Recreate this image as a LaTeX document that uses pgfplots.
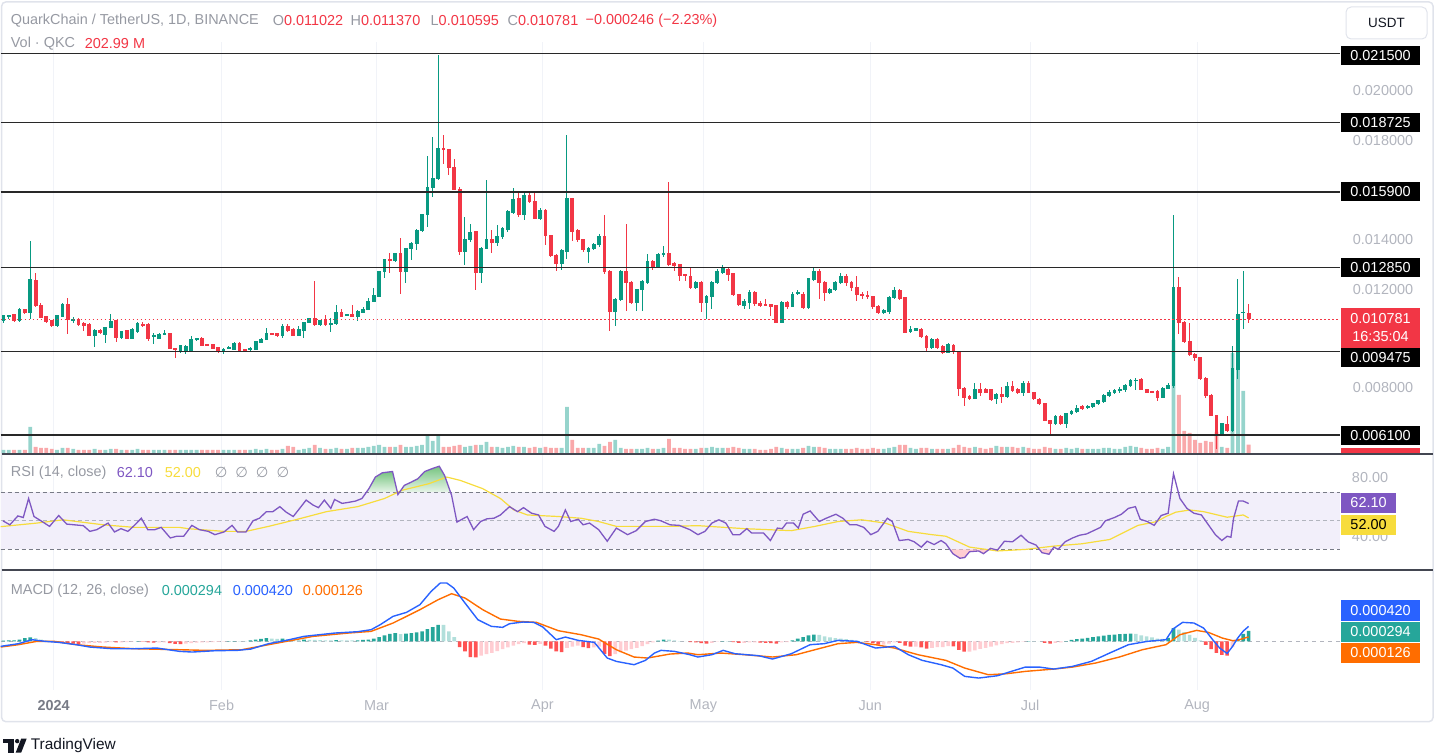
\documentclass[border=0pt]{standalone}
\usepackage{pgfplots}
\pgfplotsset{compat=1.18}
\usepackage{pgfplotstable}
\usepackage{fontspec}
\setmainfont{Liberation Sans}
\newfontfamily\dejavu{DejaVu Sans}

\definecolor{upc}{RGB}{8,153,129}
\definecolor{dnc}{RGB}{242,54,69}
\definecolor{vup}{RGB}{150,212,204}
\definecolor{vdn}{RGB}{249,168,170}
\definecolor{hgd}{RGB}{38,166,154}
\definecolor{hgl}{RGB}{178,223,219}
\definecolor{hrd}{RGB}{255,82,82}
\definecolor{hrl}{RGB}{255,205,210}
\definecolor{macdc}{RGB}{41,98,255}
\definecolor{sigc}{RGB}{255,109,0}
\definecolor{rsic}{RGB}{126,87,194}
\definecolor{rsima}{RGB}{247,220,60}
\definecolor{band}{RGB}{242,239,250}
\definecolor{obtop}{RGB}{118,196,128}
\definecolor{obbot}{RGB}{232,245,233}
\definecolor{txtg}{RGB}{150,153,162}
\definecolor{axg}{RGB}{178,181,190}
\definecolor{dashg}{RGB}{120,123,134}
\definecolor{sepc}{RGB}{67,70,81}
\definecolor{lvl}{RGB}{40,40,40}
\definecolor{gridc}{RGB}{241,243,248}
\definecolor{framec}{RGB}{224,227,235}
\definecolor{tvtxt}{RGB}{19,23,34}

\newcommand\fs{\fontsize{14.5}{17}\selectfont}
\tikzset{hl/.style={anchor=west, inner sep=0pt, font=\fs},
         cl/.style={inner sep=0pt, font=\fs}}

% every axis covers the whole 1435 x 756 canvas, so they all sit on top of each other
\pgfplotsset{
  tvfull/.style={scale only axis, width=1435bp, height=756bp, hide axis, clip=false,
    xmin=-0.50279, xmax=266.723},
  tvcanvas/.style={scale only axis, width=1435bp, height=756bp, hide axis, clip=false,
    xmin=0, xmax=1435, ymin=-756, ymax=0}}

% daily candles: k = day (k=9 is 1 Jan 2024), prices in 0.001 USDT, volume in M QKC
\pgfplotstableread{
k o h l c v
0 10.70 10.96 10.63 10.92 75
1 10.87 10.96 10.80 10.92 75
2 10.96 10.99 10.66 10.70 75
3 10.70 11.22 10.66 11.17 75
4 11.17 11.20 10.97 11.03 75
5 11.03 13.94 10.79 12.37 650
6 12.34 12.64 11.28 11.33 150
7 11.33 11.43 10.83 10.86 125
8 10.87 10.92 10.60 10.66 125
9 10.70 10.74 10.47 10.50 100
10 10.50 10.96 10.47 10.92 75
11 10.89 11.42 10.85 11.37 125
12 11.37 11.63 10.16 10.76 125
13 10.74 10.85 10.60 10.77 100
14 10.77 10.82 10.48 10.56 75
15 10.60 10.64 10.30 10.50 75
16 10.56 10.60 10.10 10.12 75
17 10.12 10.36 9.63 10.32 100
18 10.32 10.36 10.18 10.23 75
19 10.16 10.46 9.83 10.43 75
20 10.43 11.00 10.40 10.66 100
21 10.70 10.74 9.85 10.03 100
22 10.03 10.30 9.98 10.27 75
23 10.30 10.33 9.97 10.00 75
24 10.00 10.40 9.97 10.36 75
25 10.26 10.64 10.22 10.60 100
26 10.56 10.66 10.45 10.52 75
27 10.56 10.60 9.90 10.00 75
28 10.07 10.20 9.76 10.12 75
29 10.00 10.20 9.97 10.16 75
30 10.18 10.34 10.15 10.20 75
31 10.20 10.22 9.55 9.59 75
32 9.59 9.62 9.22 9.53 75
33 9.49 9.72 9.40 9.69 75
34 9.48 9.75 9.37 9.67 75
35 9.49 10.10 9.45 9.96 75
36 9.96 10.03 9.90 10.00 75
37 10.00 10.04 9.68 9.72 75
38 9.76 9.78 9.70 9.73 75
39 9.76 9.78 9.57 9.60 75
40 9.63 9.66 9.40 9.49 75
41 9.53 9.60 9.38 9.55 75
42 9.59 9.67 9.55 9.63 75
43 9.56 9.84 9.53 9.80 75
44 9.80 9.87 9.45 9.49 75
45 9.56 9.58 9.44 9.49 75
46 9.53 9.63 9.46 9.59 75
47 9.56 9.90 9.52 9.87 100
48 9.85 10.00 9.82 9.96 75
49 9.96 10.43 9.94 10.20 100
50 10.19 10.22 10.12 10.15 75
51 10.19 10.22 10.05 10.10 75
52 10.10 10.56 10.00 10.46 100
53 10.46 10.58 10.26 10.30 175
54 10.34 10.42 10.10 10.12 150
55 10.12 10.50 10.10 10.34 75
56 10.30 10.66 10.00 10.63 100
57 10.63 10.82 10.60 10.79 125
58 10.79 12.30 10.50 10.54 200
59 10.57 10.75 10.50 10.72 125
60 10.74 10.96 10.50 10.54 100
61 10.58 10.83 10.26 10.60 100
62 10.59 11.33 10.55 11.03 125
63 11.03 11.19 10.85 10.90 100
64 10.93 11.00 10.90 10.96 100
65 10.96 11.33 10.87 10.90 125
66 10.90 11.14 10.70 11.10 125
67 11.06 11.26 11.02 11.17 125
68 11.17 11.64 11.14 11.50 150
69 11.50 12.04 11.47 11.73 175
70 11.70 12.70 11.65 12.68 200
71 12.68 13.19 12.44 13.17 150
72 13.17 13.44 12.64 13.15 150
73 13.15 13.46 13.10 13.44 150
74 13.44 14.04 11.77 12.70 200
75 12.70 13.66 12.24 13.64 150
76 13.64 13.88 13.17 13.84 150
77 13.84 14.40 13.57 14.35 175
78 14.35 15.02 14.30 14.98 200
79 14.98 17.35 14.51 16.08 450
80 16.08 18.13 15.72 16.45 300
81 16.45 21.43 16.39 17.66 450
82 17.66 18.19 17.05 17.62 150
83 17.62 17.65 16.60 16.88 150
84 16.88 17.26 15.98 16.02 175
85 16.02 16.10 13.37 13.51 200
86 13.51 14.91 12.97 13.98 150
87 13.98 14.60 13.90 14.27 175
88 14.30 14.35 11.97 12.64 200
89 12.64 13.70 12.24 13.64 200
90 13.64 16.39 13.60 13.98 275
91 13.98 14.38 13.44 13.87 150
92 13.87 14.58 13.71 14.11 150
93 14.11 14.50 14.00 14.42 125
94 14.38 15.20 14.30 15.11 150
95 15.07 16.05 15.00 15.61 175
96 15.65 15.85 14.90 14.98 150
97 14.98 15.85 14.78 15.78 150
98 15.78 15.92 15.45 15.51 125
99 15.51 15.85 14.80 14.85 150
100 14.85 15.25 14.78 15.18 125
101 15.18 15.22 13.77 14.14 150
102 14.14 14.18 13.30 13.33 125
103 13.33 13.40 12.70 13.04 125
104 13.04 13.60 12.77 13.55 125
105 13.51 18.22 13.20 15.64 1150
106 15.64 15.68 13.91 14.31 325
107 14.34 14.40 13.90 13.98 125
108 13.98 14.02 13.50 13.57 125
109 13.50 13.70 13.04 13.62 125
110 13.62 13.85 13.55 13.77 125
111 13.77 14.20 13.70 14.11 225
112 14.11 14.98 12.60 12.70 175
113 12.70 12.75 10.30 11.10 275
114 11.10 11.62 10.50 11.57 325
115 11.57 12.75 11.50 12.70 125
116 12.70 14.62 11.10 12.24 100
117 12.26 12.30 11.40 11.46 100
118 11.46 12.00 11.10 11.97 100
119 11.97 12.35 11.10 12.30 100
120 12.26 13.41 12.20 13.10 125
121 13.10 13.15 12.77 12.90 100
122 12.90 13.45 12.85 13.37 100
123 13.37 13.71 13.30 13.41 125
124 13.41 16.32 12.90 12.97 350
125 13.01 13.10 12.70 12.93 125
126 12.97 13.00 12.30 12.53 125
127 12.57 12.60 12.30 12.53 100
128 12.50 12.84 12.00 12.04 100
129 12.04 12.30 12.00 12.24 100
130 12.26 12.30 11.06 11.46 125
131 11.46 11.75 10.79 11.70 125
132 11.70 12.30 11.20 12.26 150
133 12.26 12.78 12.20 12.70 125
134 12.67 12.97 12.60 12.81 125
135 12.77 12.84 12.30 12.57 125
136 12.61 12.65 11.70 11.77 150
137 11.77 11.80 11.30 11.37 125
138 11.33 11.60 11.17 11.50 100
139 11.43 11.95 11.20 11.83 100
140 11.83 11.90 11.30 11.40 100
141 11.40 11.50 11.25 11.33 75
142 11.37 11.57 11.30 11.33 75
143 11.38 11.40 10.90 11.30 100
144 11.33 11.36 10.60 10.63 150
145 10.63 11.50 10.60 11.46 125
146 11.46 11.50 11.20 11.30 100
147 11.30 11.85 11.25 11.77 100
148 11.81 11.95 11.75 11.86 100
149 11.77 11.85 11.20 11.26 125
150 11.23 12.45 11.20 12.40 175
151 12.37 12.82 12.30 12.70 150
152 12.70 12.80 11.57 12.24 150
153 12.24 12.30 11.50 11.83 125
154 11.83 12.05 11.80 11.99 100
155 11.97 12.30 11.90 12.26 100
156 12.24 12.65 12.20 12.50 100
157 12.50 12.60 12.10 12.26 100
158 12.26 12.30 11.90 12.04 100
159 12.04 12.50 11.50 11.77 125
160 11.77 11.85 11.60 11.73 100
161 11.73 11.90 11.60 11.67 100
162 11.67 11.70 11.20 11.30 125
163 11.30 11.35 11.00 11.03 100
164 11.03 11.20 11.00 11.14 100
165 11.10 11.70 11.00 11.63 125
166 11.63 12.08 11.60 11.94 150
167 11.94 12.00 11.55 11.59 200
168 11.63 11.66 10.20 10.25 200
169 10.29 10.50 10.20 10.36 125
170 10.33 10.42 10.30 10.39 100
171 10.36 10.42 10.00 10.07 125
172 10.07 10.15 9.49 9.63 125
173 9.63 10.00 9.55 9.96 100
174 9.96 10.00 9.55 9.63 100
175 9.67 9.75 9.35 9.43 100
176 9.43 9.83 9.40 9.76 100
177 9.73 9.78 9.35 9.45 125
178 9.45 9.50 7.68 7.98 200
179 7.98 8.05 7.28 7.62 150
180 7.66 7.70 7.50 7.58 125
181 7.58 8.19 7.55 7.95 150
182 7.95 8.19 7.68 7.82 125
183 7.92 8.00 7.80 7.82 100
184 7.92 7.95 7.45 7.52 125
185 7.58 7.80 7.35 7.75 175
186 7.75 8.02 7.40 7.66 150
187 7.66 8.25 7.60 8.06 150
188 8.06 8.29 7.85 7.88 150
189 7.95 8.00 7.75 7.82 125
190 7.82 8.29 7.68 8.19 150
191 8.19 8.29 7.80 7.82 125
192 7.82 7.85 7.50 7.55 100
193 7.55 7.58 7.30 7.35 100
194 7.35 7.40 6.65 6.68 150
195 6.68 6.70 6.08 6.55 125
196 6.55 6.90 6.50 6.85 100
197 6.85 6.90 6.50 6.55 100
198 6.55 7.00 6.38 6.95 125
199 6.95 7.10 6.90 7.06 100
200 7.06 7.30 7.00 7.18 125
201 7.26 7.30 7.10 7.15 100
202 7.19 7.30 7.15 7.26 100
203 7.26 7.40 7.20 7.35 100
204 7.35 7.50 7.30 7.48 100
205 7.44 7.75 7.40 7.71 125
206 7.71 7.90 7.65 7.82 125
207 7.82 7.95 7.75 7.88 100
208 7.88 8.02 7.80 7.92 100
209 7.92 8.15 7.85 8.11 150
210 8.11 8.35 8.05 8.29 175
211 8.29 8.40 7.90 8.31 150
212 8.33 8.38 7.90 7.92 125
213 7.92 7.95 7.80 7.82 100
214 7.84 7.88 7.78 7.82 100
215 7.84 7.90 7.48 7.62 125
216 7.62 8.05 7.60 7.98 100
217 7.98 8.20 7.95 8.11 150
218 8.08 14.98 8.00 12.04 2825
219 12.04 12.48 10.16 10.63 1450
220 10.63 10.70 9.80 9.89 550
221 9.89 10.60 9.30 9.36 500
222 9.36 9.40 9.10 9.22 325
223 9.22 9.25 8.30 8.38 250
224 8.38 8.45 7.60 7.71 300
225 7.71 7.75 6.85 6.88 275
226 6.88 6.90 5.54 6.15 525
227 6.15 6.60 6.10 6.55 150
228 6.51 6.88 6.20 6.28 125
229 6.28 9.69 6.20 8.78 2500
230 8.75 12.40 8.35 10.96 2625
231 11.03 12.70 10.36 11.06 1550
232 11.02 11.37 10.60 10.78 203
}\candles

% MACD histogram in 1e-4; c: 0 rising green, 1 falling green, 2 falling red, 3 rising red
\pgfplotstableread[row sep=\\]{k m c\\
0 0.20 0\\ 1 0.25 0\\ 2 0.30 0\\ 3 0.50 0\\ 4 0.90 0\\ 5 1.10 0\\ 6 0.90 1\\ 7 0.50 1\\ 8 0.20 1\\ 9 0.05 1\\
10 -0.20 2\\ 11 -0.30 2\\ 12 -0.50 2\\ 13 -0.60 2\\ 14 -0.70 2\\ 15 -0.60 3\\ 16 -0.50 3\\ 17 -0.45 3\\ 18 -0.40 3\\ 19 -0.35 3\\
20 -0.20 3\\ 21 -0.30 2\\ 22 -0.25 3\\ 23 -0.20 3\\ 24 -0.10 3\\ 25 0.05 0\\ 26 -0.10 2\\ 27 -0.30 2\\ 28 -0.35 2\\ 29 -0.30 3\\
30 -0.25 3\\ 31 -0.50 2\\ 32 -0.70 2\\ 33 -0.80 2\\ 34 -0.60 3\\ 35 -0.50 3\\ 36 -0.35 3\\ 37 -0.30 3\\ 38 -0.25 3\\ 39 -0.20 3\\
40 -0.15 3\\ 41 -0.10 3\\ 42 0.05 0\\ 43 0.10 0\\ 44 0.05 1\\ 45 0.05 1\\ 46 0.30 0\\ 47 0.50 0\\ 48 0.70 0\\ 49 0.90 0\\
50 0.80 1\\ 51 0.70 1\\ 52 0.80 0\\ 53 0.60 1\\ 54 0.50 1\\ 55 0.40 1\\ 56 0.50 0\\ 57 0.45 1\\ 58 0.40 1\\ 59 0.35 1\\
60 0.30 1\\ 61 0.30 1\\ 62 0.35 0\\ 63 0.30 1\\ 64 0.30 1\\ 65 0.25 1\\ 66 0.30 0\\ 67 0.40 0\\ 68 0.50 0\\ 69 0.80 0\\
70 1.20 0\\ 71 1.70 0\\ 72 2.10 0\\ 73 2.30 0\\ 74 2.00 1\\ 75 2.20 0\\ 76 2.30 0\\ 77 2.50 0\\ 78 2.80 0\\ 79 3.40 0\\
80 4.00 0\\ 81 4.60 0\\ 82 4.60 1\\ 83 2.80 1\\ 84 1.20 1\\ 85 -1.60 2\\ 86 -2.80 2\\ 87 -4.40 2\\ 88 -4.50 2\\ 89 -4.00 3\\
90 -3.60 3\\ 91 -3.20 3\\ 92 -2.70 3\\ 93 -2.20 3\\ 94 -1.70 3\\ 95 -1.20 3\\ 96 -0.80 3\\ 97 -0.50 3\\ 98 -0.90 2\\ 99 -1.00 2\\
100 -0.70 3\\ 101 -1.20 2\\ 102 -2.00 2\\ 103 -2.80 2\\ 104 -3.00 2\\ 105 -1.80 3\\ 106 -1.50 3\\ 107 -1.20 3\\ 108 -1.60 2\\ 109 -1.90 2\\
110 -1.70 3\\ 111 -1.50 3\\ 112 -3.50 2\\ 113 -4.10 2\\ 114 -3.60 3\\ 115 -3.10 3\\ 116 -2.60 3\\ 117 -2.20 3\\ 118 -1.80 3\\ 119 -1.30 3\\
120 -0.80 3\\ 121 -0.30 3\\ 122 0.20 0\\ 123 0.50 0\\ 124 0.50 1\\ 125 0.30 1\\ 126 0.10 1\\ 127 0.00 1\\ 128 -0.20 2\\ 129 -0.30 2\\
130 -0.50 2\\ 131 -0.60 2\\ 132 -0.40 3\\ 133 -0.10 3\\ 134 0.10 0\\ 135 0.10 1\\ 136 -0.20 2\\ 137 -0.40 2\\ 138 -0.40 3\\ 139 -0.30 3\\
140 -0.30 3\\ 141 -0.35 2\\ 142 -0.40 2\\ 143 -0.50 2\\ 144 -0.60 2\\ 145 -0.30 3\\ 146 -0.20 3\\ 147 0.30 0\\ 148 0.80 0\\ 149 1.20 0\\
150 1.70 0\\ 151 1.90 0\\ 152 1.80 1\\ 153 1.40 1\\ 154 1.10 1\\ 155 0.90 1\\ 156 0.80 1\\ 157 0.60 1\\ 158 0.40 1\\ 159 0.20 1\\
160 0.10 1\\ 161 -0.20 2\\ 162 -0.50 2\\ 163 -0.90 2\\ 164 -0.90 3\\ 165 -0.60 3\\ 166 -0.30 3\\ 167 -0.40 2\\ 168 -1.20 2\\ 169 -1.50 2\\
170 -1.50 3\\ 171 -1.70 2\\ 172 -2.00 2\\ 173 -1.80 3\\ 174 -1.60 3\\ 175 -1.60 3\\ 176 -1.30 3\\ 177 -1.40 2\\ 178 -2.40 2\\ 179 -2.90 2\\
180 -2.90 3\\ 181 -2.50 3\\ 182 -2.10 3\\ 183 -1.80 3\\ 184 -1.50 3\\ 185 -1.10 3\\ 186 -0.80 3\\ 187 -0.50 3\\ 188 -0.40 3\\ 189 -0.30 3\\
190 -0.10 3\\ 191 0.10 0\\ 192 0.10 1\\ 193 0.00 1\\ 194 -0.40 2\\ 195 -0.60 2\\ 196 -0.40 3\\ 197 -0.30 3\\ 198 0.10 0\\ 199 0.40 0\\
200 0.60 0\\ 201 0.80 0\\ 202 1.00 0\\ 203 1.20 0\\ 204 1.40 0\\ 205 1.60 0\\ 206 1.80 0\\ 207 1.90 0\\ 208 2.00 0\\ 209 2.10 0\\
210 2.20 0\\ 211 2.10 1\\ 212 1.70 1\\ 213 1.40 1\\ 214 1.10 1\\ 215 0.80 1\\ 216 0.70 1\\ 217 1.00 0\\ 218 3.70 0\\ 219 3.30 1\\
220 2.60 1\\ 221 1.80 1\\ 222 1.00 1\\ 223 0.30 1\\ 224 -1.00 2\\ 225 -2.20 2\\ 226 -3.20 2\\ 227 -3.80 2\\ 228 -4.00 2\\ 229 -1.60 3\\
230 0.70 0\\ 231 2.10 0\\ 232 2.94 0\\
}\hist

\begin{document}
\begin{tikzpicture}

% ---------- background canvas (pixel coordinates, y downwards negative)
\begin{axis}[tvcanvas]
\path (rel axis cs:0,0) rectangle (rel axis cs:1,1);
\draw[framec, line width=1.5bp, rounded corners=4bp] (1,-2) rectangle (1433,-722);
\draw[gridc, line width=1bp] (53,-42) -- (53,-690);
\draw[gridc, line width=1bp] (221,-42) -- (221,-690);
\draw[gridc, line width=1bp] (376,-42) -- (376,-690);
\draw[gridc, line width=1bp] (542,-42) -- (542,-690);
\draw[gridc, line width=1bp] (703,-42) -- (703,-690);
\draw[gridc, line width=1bp] (870,-42) -- (870,-690);
\draw[gridc, line width=1bp] (1030,-42) -- (1030,-690);
\draw[gridc, line width=1bp] (1197,-42) -- (1197,-690);
\end{axis}

% ---------- volume (behind candles), 25 M per pixel, base at y=453
\begin{axis}[tvfull, ymin=-7575, ymax=11325]
\path (rel axis cs:0,0) rectangle (rel axis cs:1,1);
\addplot[ybar, bar width=3.8bp, bar shift=0pt, fill=vup, draw=none,
  restrict expr to domain={\thisrow{c}-\thisrow{o}}{0:100}] table[x=k, y=v] {\candles};
\addplot[ybar, bar width=3.8bp, bar shift=0pt, fill=vdn, draw=none,
  restrict expr to domain={\thisrow{c}-\thisrow{o}}{-100:-0.0001}] table[x=k, y=v] {\candles};
\end{axis}

% ---------- price candles
\begin{axis}[tvfull, ymin=-6.849, ymax=23.660]
\path (rel axis cs:0,0) rectangle (rel axis cs:1,1);
\addplot[draw=none, mark=none, restrict expr to domain={\thisrow{c}-\thisrow{o}}{0:100},
  error bars/.cd, y dir=both, y explicit, error mark=none,
  error bar style={line width=1bp, draw=upc}]
  table[x=k, y expr={(\thisrow{h}+\thisrow{l})/2}, y error expr={(\thisrow{h}-\thisrow{l})/2}] {\candles};
\addplot[draw=none, mark=none, restrict expr to domain={\thisrow{c}-\thisrow{o}}{-100:-0.0001},
  error bars/.cd, y dir=both, y explicit, error mark=none,
  error bar style={line width=1bp, draw=dnc}]
  table[x=k, y expr={(\thisrow{h}+\thisrow{l})/2}, y error expr={(\thisrow{h}-\thisrow{l})/2}] {\candles};
\addplot[draw=none, mark=none, restrict expr to domain={\thisrow{c}-\thisrow{o}}{0:100},
  error bars/.cd, y dir=both, y explicit, error mark=none,
  error bar style={line width=3.8bp, draw=upc}]
  table[x=k, y expr={(\thisrow{o}+\thisrow{c})/2}, y error expr={abs(\thisrow{c}-\thisrow{o})/2+0.02}] {\candles};
\addplot[draw=none, mark=none, restrict expr to domain={\thisrow{c}-\thisrow{o}}{-100:-0.0001},
  error bars/.cd, y dir=both, y explicit, error mark=none,
  error bar style={line width=3.8bp, draw=dnc}]
  table[x=k, y expr={(\thisrow{o}+\thisrow{c})/2}, y error expr={abs(\thisrow{c}-\thisrow{o})/2+0.02}] {\candles};
% horizontal levels
\addplot[lvl, line width=1.4bp] coordinates {(-0.503,21.5) (249,21.5)};
\addplot[lvl, line width=1.4bp] coordinates {(-0.503,18.725) (249,18.725)};
\addplot[lvl, line width=1.4bp] coordinates {(-0.503,15.9) (249,15.9)};
\addplot[lvl, line width=1.4bp] coordinates {(-0.503,12.85) (249,12.85)};
\addplot[lvl, line width=1.4bp] coordinates {(-0.503,9.475) (249,9.475)};
\addplot[lvl, line width=1.4bp] coordinates {(-0.503,6.1) (249,6.1)};
\addplot[dnc, line width=0.8bp, dash pattern=on 1.5bp off 2.5bp] coordinates {(-0.503,10.781) (249,10.781)};
\end{axis}

% ---------- RSI
\begin{axis}[tvfull, ymin=-114.3, ymax=414.4]
\path (rel axis cs:0,0) rectangle (rel axis cs:1,1);
\fill[band] (axis cs:-0.503,30) rectangle (axis cs:249,70);
\draw[dashg, line width=0.9bp, dash pattern=on 4bp off 3bp] (axis cs:-0.503,70) -- (axis cs:249,70);
\draw[axg, line width=0.9bp, dash pattern=on 4bp off 3bp] (axis cs:-0.503,50) -- (axis cs:249,50);
\draw[dashg, line width=0.9bp, dash pattern=on 4bp off 3bp] (axis cs:-0.503,30) -- (axis cs:249,30);
\addplot[draw=none, top color=obtop, bottom color=obbot] coordinates {
(67.6,70)(68.1,72.5)(69.3,80.6)(70.6,83.6)(72.5,84.5)(73.4,70)} -- cycle;
\addplot[draw=none, top color=obtop, bottom color=obbot] coordinates {
(73.8,70)(74.7,74.8)(76.0,77.1)(77.2,79.4)(78.5,84.5)(80.1,86.8)(81.2,88.2)(82.2,81.7)(83.3,70)} -- cycle;
\addplot[draw=none, fill=hrl] coordinates {
(176.3,30)(176.9,27.0)(178.2,23.8)(179.1,24.3)(180.0,28.4)(181.7,28.9)(182.6,27.0)(183.7,30)} -- cycle;
\addplot[draw=none, fill=hrl] coordinates {(193.0,30)(193.5,27.7)(194.8,26.6)(195.4,30)} -- cycle;
% RSI moving average
\addplot[rsima, line width=1.2bp] coordinates {
(-0.5,45.9)(6.2,48.4)(11.1,50.7)(18.6,47.2)(24.4,45.4)(32.8,45.4)(34.4,44.5)(41.1,42.6)(45.2,42.6)(49.4,46.1)
(54.4,50.7)(60.2,56.4)(66.0,59.9)(71.0,65.6)(74.3,71.4)(79.3,76.0)(82.6,80.6)(85.1,78.3)(89.3,72.5)(92.6,65.6)
(95.1,57.6)(97.6,54.1)(103.4,53.0)(107.6,51.8)(110.9,49.5)(114.2,46.1)(124.2,46.1)(129.4,46.6)(138.1,44.5)(146.8,43.1)
(151.2,46.1)(155.5,49.5)(159.9,50.7)(164.3,48.4)(168.6,42.6)(173.0,40.3)(175.6,39.2)(180.0,31.6)(185.2,28.9)(190.5,30.0)
(195.7,32.3)(200.9,33.9)(206.1,36.9)(211.4,46.8)(214.9,49.5)(216.6,53.0)(218.4,56.0)(221.0,57.6)(223.6,56.4)(226.2,54.1)
(228.0,52.5)(229.7,53.4)(231.0,54.1)(232.0,52.0)};
% RSI
\addplot[rsic, line width=1.3bp] coordinates {
(-0.1,50.0)(1.2,47.2)(2.7,53.4)(3.7,52.3)(4.7,65.6)(5.7,53.0)(7.0,50.0)(8.6,46.1)(10.3,53.7)(11.8,47.7)
(13.2,47.2)(14.9,46.6)(16.1,42.6)(17.4,43.8)(19.5,48.4)(20.7,42.2)(21.9,44.5)(23.2,42.6)(24.4,46.8)(25.7,51.8)
(26.9,43.8)(28.2,43.8)(29.4,45.4)(31.1,38.0)(32.3,39.2)(33.6,39.2)(35.1,46.8)(36.5,43.8)(38.2,42.6)(39.4,40.3)
(41.1,42.2)(42.6,46.8)(43.6,42.2)(45.2,42.2)(46.5,50.0)(47.7,51.8)(49.0,56.4)(50.2,56.4)(51.5,59.9)(52.7,56.0)
(54.0,53.0)(55.2,58.7)(56.4,64.5)(57.7,61.0)(58.7,59.2)(59.8,64.5)(61.0,58.7)(61.7,64.9)(63.1,62.2)(64.3,62.9)
(65.6,63.8)(66.8,65.6)(68.1,72.5)(69.3,80.6)(70.6,83.6)(72.5,84.5)(73.5,68.4)(74.7,74.8)(76.0,77.1)(77.2,79.4)
(78.5,84.5)(80.1,86.8)(81.2,88.2)(82.2,81.7)(83.5,67.9)(84.5,49.1)(85.8,51.8)(86.4,53.0)(87.6,43.8)(88.9,49.5)
(90.1,51.4)(91.4,51.8)(92.6,54.1)(94.3,59.9)(95.8,56.4)(96.9,59.2)(98.4,55.3)(99.7,54.1)(100.9,46.1)(102.6,42.6)
(103.4,46.1)(104.7,57.6)(105.7,49.5)(107.1,51.1)(108.0,47.2)(109.2,48.4)(110.9,43.8)(112.5,35.7)(114.2,44.9)(116.3,40.3)
(117.9,43.1)(119.6,49.5)(121.3,51.1)(122.5,50.0)(124.2,47.2)(125.9,46.8)(127.9,43.8)
(129.4,40.3)(130.7,42.6)(132.0,48.4)(133.3,50.7)(134.6,48.4)(135.9,40.3)(137.2,40.3)(138.5,44.5)(139.4,41.5)(141.6,41.5)
(142.9,36.2)(144.2,44.9)(145.1,44.5)(145.9,48.4)(147.2,48.4)(148.1,44.9)(149.0,54.6)(150.3,56.9)(152.0,49.5)(153.3,51.8)
(155.1,54.6)(156.4,51.8)(157.7,47.2)(159.0,47.2)(160.3,45.4)(161.6,40.3)(162.9,42.6)(164.7,51.8)(165.6,49.5)(166.9,36.2)
(168.6,36.9)(169.7,35.3)(171.0,31.6)(172.1,35.7)(173.4,33.4)(174.7,36.2)(175.6,33.9)(176.9,27.0)(178.2,23.8)(179.1,24.3)
(180.0,28.4)(181.7,28.9)(182.6,27.0)(183.9,30.7)(185.2,29.5)(186.5,35.7)(188.0,35.3)(189.6,39.9)(190.9,35.3)(192.4,33.0)
(193.5,27.7)(194.8,26.6)(195.7,31.6)(196.5,30.0)(197.8,35.3)(199.2,38.0)(200.5,39.9)(201.8,40.8)(203.1,43.1)(204.4,45.4)
(205.3,50.0)(207.0,52.3)(208.3,54.6)(209.6,58.7)(210.9,59.9)(211.8,51.1)(213.1,49.5)(214.4,46.8)(215.7,53.7)(217.0,55.3)
(218.0,82.9)(219.2,65.6)(220.5,58.7)(221.8,55.3)(223.2,54.1)(224.5,47.2)(225.8,40.3)(227.0,36.2)(228.0,39.2)(228.7,38.5)
(229.2,51.8)(230.1,63.8)(231.0,63.8)(232.0,62.1)};
\end{axis}

% ---------- MACD (values in 1e-4)
\begin{axis}[tvfull, ymin=-32.02, ymax=179.75]
\path (rel axis cs:0,0) rectangle (rel axis cs:1,1);
\draw[axg, line width=0.9bp, dash pattern=on 4bp off 4bp] (axis cs:-0.503,0) -- (axis cs:249,0);
\addplot[ybar, bar width=3.6bp, bar shift=0pt, fill=hgd, draw=none,
  restrict expr to domain={\thisrow{c}}{-0.5:0.5}] table[x=k, y=m] {\hist};
\addplot[ybar, bar width=3.6bp, bar shift=0pt, fill=hgl, draw=none,
  restrict expr to domain={\thisrow{c}}{0.5:1.5}] table[x=k, y=m] {\hist};
\addplot[ybar, bar width=3.6bp, bar shift=0pt, fill=hrd, draw=none,
  restrict expr to domain={\thisrow{c}}{1.5:2.5}] table[x=k, y=m] {\hist};
\addplot[ybar, bar width=3.6bp, bar shift=0pt, fill=hrl, draw=none,
  restrict expr to domain={\thisrow{c}}{2.5:3.5}] table[x=k, y=m] {\hist};
% signal
\addplot[sigc, line width=1.4bp] coordinates {
(-0.5,-1.59)(2.8,-0.93)(6.2,0)(9.5,0)(13.6,-0.93)(18.6,-1.59)(24.4,-2.06)(32.8,-2.34)(37.7,-2.52)(44.4,-2.34)
(49.4,-0.93)(54.4,0.47)(57.7,1.40)(64.3,2.34)(68.5,2.80)(72.6,5.14)(77.6,8.88)(81.0,11.68)(83.5,13.36)(86.0,12.15)
(89.3,8.88)(92.6,6.26)(95.9,5.61)(99.3,5.33)(103.4,2.99)(107.6,1.87)(110.9,0.65)(114.2,-2.34)(117.5,-4.39)(120.0,-4.67)
(124.2,-3.55)(127.5,-3.27)(129.4,-3.74)(133.7,-3.27)(138.1,-3.74)(143.3,-4.39)(147.7,-3.74)(151.2,-2.34)(155.5,-0.65)(159.0,-0.28)
(162.5,-0.93)(166.0,-1.87)(170.4,-3.74)(175.6,-5.33)(179.1,-7.48)(183.5,-9.35)(186.9,-9.07)(190.4,-8.41)(195.7,-7.76)(199.2,-7.20)
(203.5,-6.07)(207.9,-4.39)(212.2,-2.34)(216.6,-0.93)(219.2,1.87)(222.3,3.08)(224.5,2.52)(227.1,0.93)(229.0,0.20)(230.0,0.35)
(231.0,0.80)(232.0,1.26)};
% MACD
\addplot[macdc, line width=1.4bp] coordinates {
(-0.5,-1.40)(2.8,-0.65)(5.3,0.47)(7.8,0)(10.3,-0.28)(13.6,-0.93)(16.1,-1.59)(20.3,-2.06)(24.4,-2.06)(28.6,-1.87)
(32.8,-2.80)(35.2,-2.99)(39.4,-2.62)(43.6,-2.52)(46.1,-2.15)(49.4,-0.65)(52.7,0.28)(56.0,1.40)(57.7,1.68)(61.8,2.34)
(66.0,2.71)(68.5,3.27)(70.2,4.67)(72.6,7.01)(75.1,8.13)(77.6,10.28)(79.7,14.02)(81.4,16.36)(82.6,16.36)(83.9,14.95)
(86.0,10.75)(88.4,6.07)(90.9,4.21)(93.0,3.93)(94.3,4.95)(96.8,5.42)(98.8,5.33)(100.5,4.02)(103.0,0.47)(104.7,1.21)
(107.1,0.28)(110.1,-0.28)(112.5,-4.67)(114.2,-5.61)(117.5,-6.54)(119.6,-5.33)(121.3,-3.27)(122.5,-2.52)(125.0,-2.80)(127.9,-3.74)
(129.4,-4.39)(132.0,-3.74)(134.1,-2.52)(136.3,-3.46)(140.7,-4.02)(143.3,-4.95)(146.8,-3.46)(150.3,-0.93)(152.9,-0.65)(155.5,0.28)
(159.0,0)(162.5,-1.87)(166.0,-1.40)(168.6,-3.74)(171.2,-5.33)(174.7,-6.54)(176.9,-7.48)(179.1,-9.81)(181.7,-10.28)(185.2,-9.63)
(187.8,-8.41)(190.4,-7.20)(193.0,-7.20)(195.7,-7.76)(199.2,-7.01)(202.7,-5.61)(206.1,-3.27)(209.6,-0.93)(213.1,0)(216.6,0.47)
(217.9,3.46)(219.7,5.33)(221.8,5.14)(223.6,3.74)(225.3,0.47)(226.6,-1.87)(228.0,-3.40)(229.0,-1.40)(230.0,1.00)(231.0,2.90)
(232.0,4.20)};
\end{axis}

% ---------- foreground canvas: separators, texts, scale labels
\begin{axis}[tvcanvas]
\path (rel axis cs:0,0) rectangle (rel axis cs:1,1);
\draw[sepc, line width=1.6bp] (1,-454) -- (1433,-454);
\draw[sepc, line width=1.6bp] (1,-570) -- (1433,-570);
% header
\node[hl, text=txtg] at (10,-21) {QuarkChain / TetherUS, 1D, BINANCE};
\node[hl] at (272,-21) {\textcolor{txtg}{O}\textcolor{dnc}{0.011022}};
\node[hl] at (350,-21) {\textcolor{txtg}{H}\textcolor{dnc}{0.011370}};
\node[hl] at (430,-21) {\textcolor{txtg}{L}\textcolor{dnc}{0.010595}};
\node[hl] at (507,-21) {\textcolor{txtg}{C}\textcolor{dnc}{0.010781}};
\node[hl, text=dnc] at (585,-21) {−0.000246 (−2.23\%)};
\node[hl, text=txtg] at (10,-44) {Vol · QKC};
\node[hl, text=dnc] at (84,-44) {202.99 M};
\node[hl, text=txtg] at (10,-473) {RSI (14, close)};
\node[hl, text=rsic] at (116,-473) {62.10};
\node[hl, text=rsima] at (164,-473) {52.00};
\node[hl, text=txtg] at (214,-473) {\dejavu ∅\hspace{8bp}∅\hspace{8bp}∅\hspace{8bp}∅};
\node[hl, text=txtg] at (10,-591) {MACD (12, 26, close)};
\node[hl, text=hgd] at (161,-591) {0.000294};
\node[hl, text=macdc] at (232,-591) {0.000420};
\node[hl, text=sigc] at (302,-591) {0.000126};
% USDT button
\draw[framec, line width=1bp, rounded corners=5bp] (1346,-7) rectangle (1427,-39);
\node[inner sep=0pt, font=\fontsize{13.5}{16}\selectfont, text=tvtxt] at (1386.5,-23) {USDT};
% price scale
\node[cl, text=axg] at (1383,-90.7) {0.020000};
\node[cl, text=axg] at (1383,-140.7) {0.018000};
\node[cl, text=axg] at (1383,-240) {0.014000};
\node[cl, text=axg] at (1383,-290) {0.012000};
\node[cl, text=axg] at (1383,-388) {0.008000};
\fill[black] (1341,-46.5) rectangle (1420,-65.5);
\node[cl, text=white] at (1380.5,-56) {0.021500};
\fill[black] (1341,-113) rectangle (1420,-132);
\node[cl, text=white] at (1380.5,-122.5) {0.018725};
\fill[black] (1341,-182.5) rectangle (1420,-201.5);
\node[cl, text=white] at (1380.5,-192) {0.015900};
\fill[black] (1341,-258.5) rectangle (1420,-277.5);
\node[cl, text=white] at (1380.5,-268) {0.012850};
\fill[black] (1341,-348.5) rectangle (1420,-367.5);
\node[cl, text=white] at (1380.5,-358) {0.009475};
\fill[black] (1341,-426) rectangle (1420,-445);
\node[cl, text=white] at (1380.5,-435.5) {0.006100};
\fill[dnc] (1341,-308) rectangle (1420,-348);
\node[cl, text=white] at (1380.5,-319) {0.010781};
\node[cl, text=white] at (1380.5,-337) {16:35:04};
\fill[dnc] (1341,-448) rectangle (1420,-453);
% RSI scale
\node[cl, text=axg] at (1370,-478) {80.00};
\node[cl, text=axg] at (1370,-537) {40.00};
\fill[rsic] (1341,-493) rectangle (1396,-513);
\node[cl, text=white] at (1368.5,-503) {62.10};
\fill[rsima] (1341,-515) rectangle (1396,-535);
\node[cl, text=black] at (1368.5,-525) {52.00};
% MACD scale
\fill[macdc] (1341,-600) rectangle (1420,-621);
\node[cl, text=white] at (1380.5,-610.5) {0.000420};
\fill[hgd] (1341,-622) rectangle (1420,-642);
\node[cl, text=white] at (1380.5,-632) {0.000294};
\fill[sigc] (1341,-643) rectangle (1420,-663);
\node[cl, text=white] at (1380.5,-653) {0.000126};
% time axis
\node[cl, text=dashg, font=\fs\bfseries] at (53,-706) {2024};
\node[cl, text=axg] at (221,-706) {Feb};
\node[cl, text=axg] at (376,-706) {Mar};
\node[cl, text=axg] at (542,-706) {Apr};
\node[cl, text=axg] at (703,-706) {May};
\node[cl, text=axg] at (870,-706) {Jun};
\node[cl, text=axg] at (1030,-706) {Jul};
\node[cl, text=axg] at (1197,-706) {Aug};
% logo
\fill[tvtxt] (2,-739) rectangle (13,-743.5);
\fill[tvtxt] (7.5,-743.5) rectangle (13,-753);
\fill[tvtxt] (16.5,-741.5) circle [radius=2.2bp];
\fill[tvtxt] (15,-753) -- (20.5,-739) -- (26,-739) -- (20.5,-753) -- cycle;
\node[hl, font=\fontsize{15.5}{18}\selectfont, text=tvtxt] at (30,-746) {TradingView};
\end{axis}
\end{tikzpicture}
\end{document}
